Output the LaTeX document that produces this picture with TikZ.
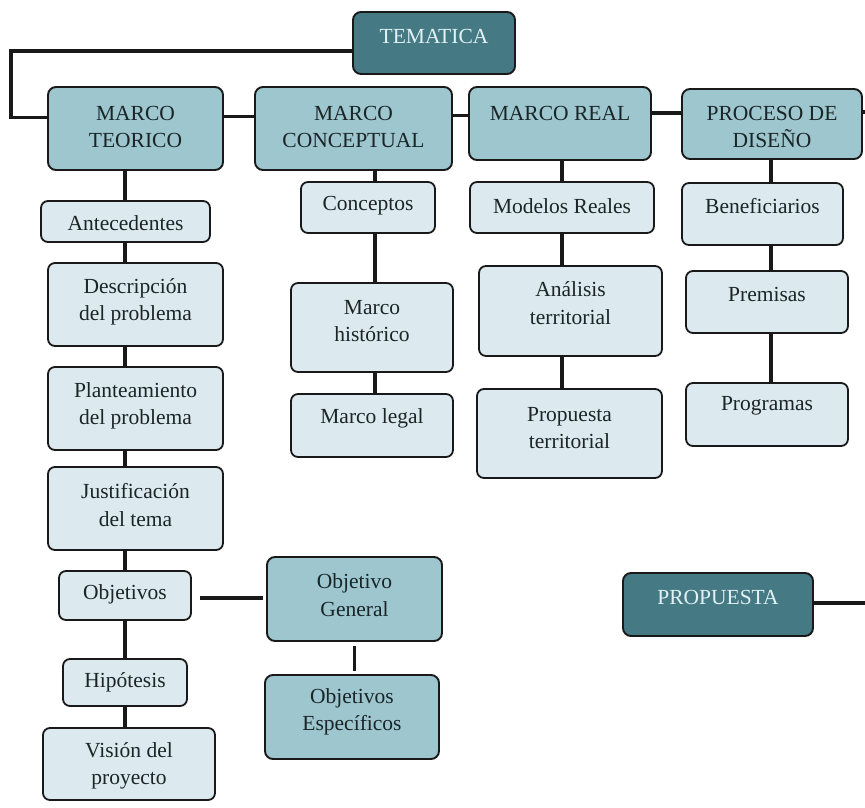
\documentclass[tikz,border=0pt]{standalone}
\usepackage{fontspec}
\setmainfont{Liberation Serif}
\usetikzlibrary{calc}
\definecolor{darkteal}{HTML}{457A85}
\definecolor{midteal}{HTML}{9DC6CE}
\definecolor{paleteal}{HTML}{DCE9EE}
\definecolor{inkdark}{HTML}{1A2528}
\definecolor{inklight}{HTML}{E2F1F3}
\tikzset{
  hdrbox/.style={draw=black!90, line width=1.9pt, fill=midteal, rounded corners=8pt, inner sep=0pt},
  topbox/.style={draw=black!90, line width=1.9pt, fill=darkteal, rounded corners=8pt, inner sep=0pt},
  subbox/.style={draw=black!90, line width=1.8pt, fill=paleteal, rounded corners=7pt, inner sep=0pt},
  txt/.style={align=center, inner sep=0pt, text=inkdark, font=\fontsize{21.5}{27.5}\selectfont},
  ltxt/.style={txt, text=inklight},
  link/.style={line width=3.2pt, draw=black!90}
}
\begin{document}
\begin{tikzpicture}[x=1pt,y=-1pt]
\useasboundingbox (0,0) rectangle (865,808);
\coordinate (c1) at (125,0);
\coordinate (c2) at (375,0);
\coordinate (c3) at (562,0);
\coordinate (c4) at (771,0);
\coordinate (edgeA) at (867,112);
\coordinate (edgeB) at (867,603);
\coordinate (turn) at (11,51);

% top level
\node[topbox, minimum width=162, minimum height=62] (tem) at (434,43) {};
\node[ltxt] (temt) at (434,36) {TEMATICA};

\node[hdrbox, minimum width=175, minimum height=83] (mt) at (135.5,128.5) {};
\node[txt] (mtt) at (135.5,127) {MARCO\\TEORICO};
\node[hdrbox, minimum width=197, minimum height=83] (mc) at (353.5,128.5) {};
\node[txt] (mct) at (353.5,127) {MARCO\\CONCEPTUAL};
\node[hdrbox, minimum width=182, minimum height=73] (mr) at (560,123.5) {};
\node[txt] (mrt) at (560,113) {MARCO REAL};
\node[hdrbox, minimum width=180, minimum height=70] (pd) at (772,124) {};
\node[txt] (pdt) at (772,127) {PROCESO DE\\DISEÑO};

% column 1
\node[subbox, minimum width=169, minimum height=41] (ant) at (125.5,221.5) {};
\node[txt] (antt) at (125.5,223) {Antecedentes};
\node[subbox, minimum width=175, minimum height=83] (des) at (135.5,304.5) {};
\node[txt] (dest) at (135.5,302) {Descripción\\del problema};
\node[subbox, minimum width=175, minimum height=83] (pla) at (135.5,408.5) {};
\node[txt] (plat) at (135.5,406) {Planteamiento\\del problema};
\node[subbox, minimum width=175, minimum height=83] (jus) at (135.5,508.5) {};
\node[txt] (just) at (135.5,505) {Justificación\\del tema};
\node[subbox, minimum width=132, minimum height=49] (obj) at (125,595.5) {};
\node[txt] (objt) at (125,594) {Objetivos};
\node[subbox, minimum width=124, minimum height=47] (hip) at (125,682.5) {};
\node[txt] (hipt) at (125,682) {Hipótesis};
\node[subbox, minimum width=172, minimum height=72] (vis) at (129,764) {};
\node[txt] (vist) at (129,766) {Visión del\\proyecto};

% objetivos branch
\node[hdrbox, minimum width=175, minimum height=84] (og) at (354.5,599) {};
\node[txt] (ogt) at (354.5,595) {Objetivo\\General};
\node[hdrbox, minimum width=174, minimum height=84] (oe) at (352,717) {};
\node[txt] (oet) at (352,712) {Objetivos\\Específicos};

% column 2
\node[subbox, minimum width=134, minimum height=51] (con) at (368,207.5) {};
\node[txt] (cont) at (368,206) {Conceptos};
\node[subbox, minimum width=162, minimum height=89] (mh) at (372,327.5) {};
\node[txt] (mht) at (372,321) {Marco\\histórico};
\node[subbox, minimum width=162, minimum height=63] (ml) at (372,425.5) {};
\node[txt] (mlt) at (372,418) {Marco legal};

% column 3
\node[subbox, minimum width=184, minimum height=51] (mod) at (562,207.5) {};
\node[txt] (modt) at (562,206) {Modelos Reales};
\node[subbox, minimum width=183, minimum height=90] (ana) at (570.5,311) {};
\node[txt] (anat) at (570.5,303) {Análisis\\territorial};
\node[subbox, minimum width=185, minimum height=89] (pro) at (569.5,433.5) {};
\node[txt] (prot) at (569.5,428) {Propuesta\\territorial};

% column 4
\node[subbox, minimum width=161, minimum height=62] (ben) at (762.5,214) {};
\node[txt] (bent) at (762.5,206) {Beneficiarios};
\node[subbox, minimum width=162, minimum height=62] (pre) at (767,302) {};
\node[txt] (pret) at (767,294) {Premisas};
\node[subbox, minimum width=162, minimum height=63] (prg) at (767,414.5) {};
\node[txt] (prgt) at (767,406) {Programas};

% propuesta
\node[topbox, minimum width=190, minimum height=63] (prp) at (718,604.5) {};
\node[ltxt] (prpt) at (718,597) {PROPUESTA};

% connectors
\draw[link] ([yshift=-8pt]tem.west) -- (turn) |- ([yshift=11pt]mt.west);
\draw[link] ([yshift=12pt]mt.east) -- ([yshift=12pt]mt.east -| mc.west);
\draw[link] ([yshift=13pt]mc.east) -- ([yshift=13pt]mc.east -| mr.west);
\draw[link] ([yshift=10.5pt]mr.east) -- ([yshift=10.5pt]mr.east -| pd.west);
\draw[link] (pd.east |- edgeA) -- (edgeA);
\draw[link] (prp.east |- edgeB) -- (edgeB);

\draw[link] (c1 |- mt.south) -- (c1 |- ant.north);
\draw[link] (c1 |- ant.south) -- (c1 |- des.north);
\draw[link] (c1 |- des.south) -- (c1 |- pla.north);
\draw[link] (c1 |- pla.south) -- (c1 |- jus.north);
\draw[link] (c1 |- jus.south) -- (c1 |- obj.north);
\draw[link] (c1 |- obj.south) -- (c1 |- hip.north);
\draw[link] (c1 |- hip.south) -- (c1 |- vis.north);
\draw[link, shorten <=8pt, shorten >=3pt] ([yshift=-2.5pt]obj.east) -- ([yshift=-2.5pt]obj.east -| og.west);
\draw[link, shorten <=4pt, shorten >=3pt] (og.south) -- (og.south |- oe.north);

\draw[link] (c2 |- mc.south) -- (c2 |- con.north);
\draw[link] (c2 |- con.south) -- (c2 |- mh.north);
\draw[link] (c2 |- mh.south) -- (c2 |- ml.north);

\draw[link] (c3 |- mr.south) -- (c3 |- mod.north);
\draw[link] (c3 |- mod.south) -- (c3 |- ana.north);
\draw[link] (c3 |- ana.south) -- (c3 |- pro.north);

\draw[link] (c4 |- pd.south) -- (c4 |- ben.north);
\draw[link] (c4 |- ben.south) -- (c4 |- pre.north);
\draw[link] (c4 |- pre.south) -- (c4 |- prg.north);
\end{tikzpicture}
\end{document}
